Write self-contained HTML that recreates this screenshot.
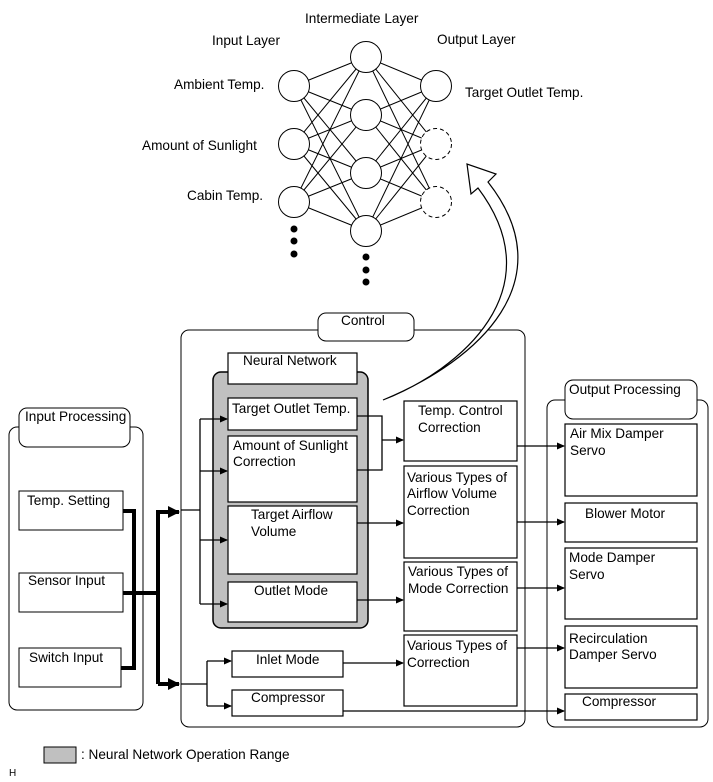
<!DOCTYPE html>
<html><head><style>
html,body{margin:0;padding:0;background:#fff;}
svg{display:block;}
text{font-family:"Liberation Sans",Arial,sans-serif;font-size:13.6px;fill:#000;}
</style></head><body>
<svg width="713" height="782" viewBox="0 0 713 782" xmlns="http://www.w3.org/2000/svg">
<defs>
<marker id="a" markerWidth="8" markerHeight="8" refX="7" refY="4" orient="auto" markerUnits="userSpaceOnUse"><path d="M0,0.5 L8,4 L0,7.5Z" fill="#000"/></marker>
<marker id="b" markerWidth="12" markerHeight="12" refX="11" refY="6" orient="auto" markerUnits="userSpaceOnUse"><path d="M0,0 L12,6 L0,12Z" fill="#000"/></marker>
</defs>
<g stroke="#000" stroke-width="1" fill="none">
<path d="M294,86L366,57M294,86L366,115M294,86L366,173M294,86L366,231
M294,144L366,57M294,144L366,115M294,144L366,173M294,144L366,231
M294,202L366,57M294,202L366,115M294,202L366,173M294,202L366,231
M366,57L436,86M366,57L436,144M366,57L436,202
M366,115L436,86M366,115L436,144M366,115L436,202
M366,173L436,86M366,173L436,144M366,173L436,202
M366,231L436,86M366,231L436,144M366,231L436,202"/>
</g>
<g stroke="#000" stroke-width="1" fill="#fff">
<circle cx="294" cy="86" r="15.5"/><circle cx="294" cy="144" r="15.5"/><circle cx="294" cy="202" r="15.5"/>
<circle cx="366" cy="57" r="15.5"/><circle cx="366" cy="115" r="15.5"/><circle cx="366" cy="173" r="15.5"/><circle cx="366" cy="231" r="15.5"/>
<circle cx="436" cy="86" r="15.5"/>
<circle cx="436" cy="144" r="15.5" stroke-dasharray="4,3"/><circle cx="436" cy="202" r="15.5" stroke-dasharray="4,3"/>
</g>
<g fill="#000">
<circle cx="294" cy="229" r="3.5"/><circle cx="294" cy="241" r="3.5"/><circle cx="294" cy="254" r="3.5"/>
<circle cx="366" cy="257" r="3.5"/><circle cx="366" cy="270" r="3.5"/><circle cx="366" cy="282" r="3.5"/>
</g>
<text x="305" y="23">Intermediate Layer</text>
<text x="212" y="45">Input Layer</text>
<text x="437" y="44">Output Layer</text>
<text x="174" y="89">Ambient Temp.</text>
<text x="465" y="97">Target Outlet Temp.</text>
<text x="142" y="150">Amount of Sunlight</text>
<text x="187" y="200">Cabin Temp.</text>

<rect x="181" y="330" width="344" height="397" rx="8" fill="none" stroke="#000"/>
<rect x="318" y="313" width="96" height="28" rx="8" fill="#fff" stroke="#000"/>
<text x="341" y="325">Control</text>

<path d="M383,400 C480,360 565,280 488,182 L496,174 L467,164 L471,194 L478,188 C555,290 460,370 383,400 Z" fill="#fff" stroke="#000" stroke-width="1.2"/>

<rect x="9" y="427" width="134" height="283" rx="8" fill="none" stroke="#000"/>
<rect x="19" y="408" width="111" height="39" rx="8" fill="#fff" stroke="#000"/>
<text x="25" y="421">Input Processing</text>
<g fill="#fff" stroke="#000">
<rect x="19" y="491" width="104" height="39"/>
<rect x="19" y="573" width="104" height="39"/>
<rect x="19" y="648" width="102" height="39"/>
</g>
<text x="27" y="505">Temp. Setting</text>
<text x="28" y="585">Sensor Input</text>
<text x="29" y="662">Switch Input</text>
<g stroke="#000" stroke-width="4" fill="none">
<path d="M123,511 H134 V668 H121"/>
<path d="M123,593 H158"/>
<path d="M158,510 V684"/>
<path d="M158,512 H179" marker-end="url(#b)"/>
<path d="M158,684 H179" marker-end="url(#b)"/>
</g>

<rect x="213" y="372" width="155" height="256" rx="8" fill="#c0c0c0" stroke="#000" stroke-width="1.5"/>
<g fill="#fff" stroke="#000" stroke-width="1.2">
<rect x="228" y="353" width="129" height="31"/>
<rect x="228" y="398" width="129" height="32"/>
<rect x="228" y="436" width="129" height="66"/>
<rect x="228" y="506" width="129" height="68"/>
<rect x="228" y="582" width="129" height="40"/>
<rect x="232" y="651" width="111" height="26"/>
<rect x="232" y="690" width="111" height="26"/>
<rect x="404" y="401" width="113" height="60"/>
<rect x="404" y="466" width="113" height="92"/>
<rect x="404" y="562" width="113" height="69"/>
<rect x="404" y="635" width="113" height="71"/>
</g>
<text x="243" y="365">Neural Network</text>
<text x="232" y="413">Target Outlet Temp.</text>
<text x="233" y="450">Amount of Sunlight</text>
<text x="233" y="466">Correction</text>
<text x="251" y="519">Target Airflow</text>
<text x="251" y="536">Volume</text>
<text x="254" y="595">Outlet Mode</text>
<text x="256" y="664">Inlet Mode</text>
<text x="251" y="702">Compressor</text>
<text x="418" y="415">Temp. Control</text>
<text x="418" y="432">Correction</text>
<text x="407" y="482">Various Types of</text>
<text x="407" y="498">Airflow Volume</text>
<text x="407" y="515">Correction</text>
<text x="408" y="576">Various Types of</text>
<text x="408" y="593">Mode Correction</text>
<text x="407" y="650">Various Types of</text>
<text x="407" y="667">Correction</text>

<g stroke="#000" stroke-width="1.3" fill="none">
<path d="M181,510 H200"/>
<path d="M200,419 V604"/>
<path d="M200,419 H227" marker-end="url(#a)"/>
<path d="M200,471 H227" marker-end="url(#a)"/>
<path d="M200,540 H227" marker-end="url(#a)"/>
<path d="M200,604 H227" marker-end="url(#a)"/>
<path d="M181,684 H207"/>
<path d="M207,661 V706"/>
<path d="M207,661 H231" marker-end="url(#a)"/>
<path d="M207,706 H231" marker-end="url(#a)"/>
<path d="M357,416 H382 V470 H357"/>
<path d="M382,440 H403" marker-end="url(#a)"/>
<path d="M357,523 H403" marker-end="url(#a)"/>
<path d="M357,600 H403" marker-end="url(#a)"/>
<path d="M343,663 H403" marker-end="url(#a)"/>
<path d="M517,446 H564" marker-end="url(#a)"/>
<path d="M517,522 H564" marker-end="url(#a)"/>
<path d="M517,588 H564" marker-end="url(#a)"/>
<path d="M517,648 H564" marker-end="url(#a)"/>
<path d="M343,711 H564" marker-end="url(#a)"/>
</g>

<rect x="547" y="400" width="161" height="327" rx="8" fill="none" stroke="#000"/>
<rect x="565" y="380" width="132" height="39" rx="8" fill="#fff" stroke="#000"/>
<text x="569" y="394">Output Processing</text>
<g fill="#fff" stroke="#000" stroke-width="1.2">
<rect x="565" y="424" width="132" height="72"/>
<rect x="565" y="503" width="132" height="39"/>
<rect x="565" y="548" width="132" height="71"/>
<rect x="565" y="626" width="132" height="62"/>
<rect x="565" y="694" width="132" height="26"/>
</g>
<text x="570" y="438">Air Mix Damper</text>
<text x="570" y="455">Servo</text>
<text x="585" y="518">Blower Motor</text>
<text x="569" y="562">Mode Damper</text>
<text x="569" y="579">Servo</text>
<text x="569" y="643">Recirculation</text>
<text x="569" y="659">Damper Servo</text>
<text x="582" y="706">Compressor</text>

<rect x="44" y="747" width="32" height="16" fill="#c0c0c0" stroke="#000"/>
<text x="81" y="759">: Neural Network Operation Range</text>
<text x="9" y="776" style="font-size:10px">H</text>
</svg>
</body></html>
